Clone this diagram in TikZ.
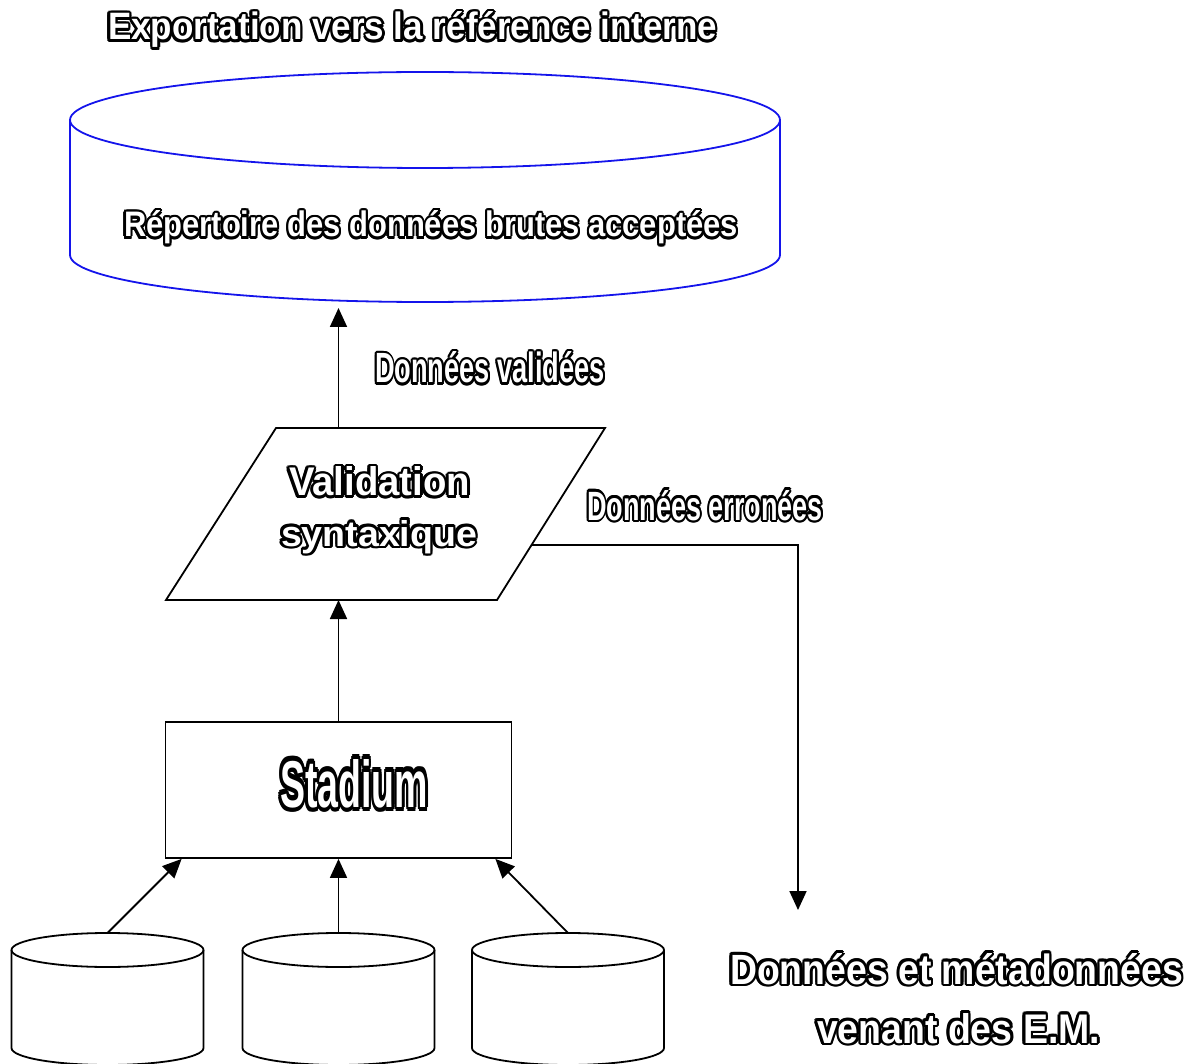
\documentclass[tikz,border=0pt]{standalone}
\usepackage{fontspec}
\setmainfont{Liberation Sans}
\usepackage{contour}
\usepackage{graphicx}
\usetikzlibrary{arrows.meta,calc}
\contourlength{0.7pt}
\contournumber{12}
\newcommand{\olab}[3]{\resizebox{#1}{#2}{\bfseries\color{white}\contour{black}{#3}}}
\definecolor{cylblue}{RGB}{20,20,235}
\tikzset{
  blk/.style={draw=black, line width=1.8pt},
  bl/.style={draw=cylblue, line width=1.8pt},
  arr/.style={draw=black, line width=1.8pt, -{Triangle[length=19pt,width=17pt]}},
  ghost/.style={inner sep=0pt, outer sep=0pt},
  lab/.style={inner sep=0pt, outer sep=0pt, anchor=base west},
}
\begin{document}
\begin{tikzpicture}[x=1pt,y=-1pt]
\useasboundingbox (0,0) rectangle (1200,1064);
% top cylinder
\node[ghost, minimum width=710pt, minimum height=230pt] (rep) at (425,187) {};
\draw[bl] (425,120) ellipse [x radius=355, y radius=48];
\draw[bl] (70,120) -- (70,255) arc[start angle=180, end angle=0, x radius=355, y radius=47] -- (780,120);
\node[lab] (reptext) at (124,237) {\olab{614pt}{26pt}{Répertoire des données brutes acceptées}};
% title
\node[lab] (title) at (108,40) {\olab{609pt}{28pt}{Exportation vers la référence interne}};
% parallelogram
\coordinate (p1) at (166,600);
\coordinate (p2) at (497,600);
\coordinate (p3) at (605,428);
\coordinate (p4) at (276,428);
\draw[blk, line join=miter] (p1) -- (p2) -- (p3) -- (p4) -- cycle;
\node[lab] (val1) at (289,496) {\olab{181pt}{29pt}{Validation}};
\node[lab] (val2) at (281,546) {\olab{196pt}{26pt}{syntaxique}};
% stadium
\node[blk, minimum width=346pt, minimum height=136pt, inner sep=0pt] (stad) at (338.5,790) {};
\node[lab] (stadt) at (280,807) {\olab{148pt}{48pt}{Stadium}};
% small cylinders
\foreach \n/\cx in {c1/107.5, c2/338.5, c3/568}{
  \node[ghost, minimum width=192pt, minimum height=134pt] (\n) at (\cx,1000) {};
  \draw[blk] (\cx,950) ellipse [x radius=96, y radius=17];
  \draw[blk] ($(\cx,950)+(-96,0)$) -- ($(\cx,1048)+(-96,0)$) arc[start angle=180, end angle=0, x radius=96, y radius=17] -- ($(\cx,950)+(96,0)$);
}
% labels
\node[lab] (valid) at (375,383) {\olab{230pt}{31pt}{Données validées}};
\node[lab] (err) at (587,520) {\olab{236pt}{30pt}{Données erronées}};
\node[lab] (em1) at (730,984) {\olab{453pt}{31pt}{Données et métadonnées}};
\node[lab] (em2) at (817,1043) {\olab{283pt}{30pt}{venant des E.M.}};
% connectors
\draw[arr] (c1.north) -- ($(stad.south west)+(17,0)$);
\draw[arr] (c2.north) -- (c2.north |- stad.south);
\draw[arr] (c3.north) -- ($(stad.south east)+(-17,0)$);
\draw[arr] (stad.north) -- (stad.north |- p1);
\draw[arr] (stad.north |- p4) -- ($(stad.north |- rep.south)+(0,6)$);
\coordinate (e0) at (531,545);
\coordinate (eend) at (798,910);
\draw[arr] (e0) -| (eend);
\end{tikzpicture}
\end{document}
